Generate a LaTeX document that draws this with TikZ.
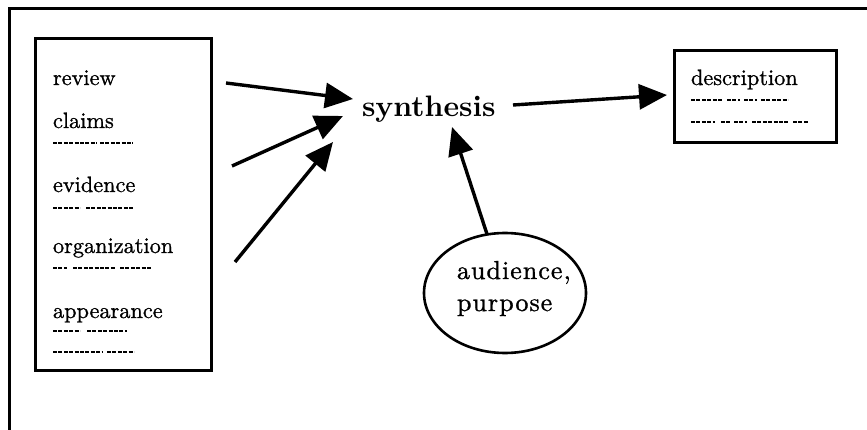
\documentclass[tikz,border=0pt]{standalone}
\usepackage{fontspec}
\setmainfont{lmroman10-regular.otf}[BoldFont=lmroman10-bold.otf]
\usetikzlibrary{arrows.meta,shapes.geometric}
\begin{document}
\begin{tikzpicture}[x=1pt,y=-1pt,
  every node/.style={inner sep=0pt,outer sep=0pt},
  lbl/.style={anchor=base west,font=\fontsize{22.3}{27}\selectfont\addfontfeatures{FakeBold=1}},
  audt/.style={anchor=base west,font=\fontsize{26}{31}\selectfont\addfontfeatures{LetterSpace=4,FakeBold=1}},
  frame/.style={line width=3pt},
  ph/.style={line width=2.4pt,dash pattern=on 4pt off 1.4pt},
  arr/.style={line width=3.4pt,-{Triangle[length=28pt,width=25pt]}}]
\useasboundingbox (0,0) rectangle (867,430);
% outer frame
\draw[frame] (9,430) -- (9,9) -- (867,9);
% left box
\node[draw,frame,minimum width=176,minimum height=331] (lbox) at (123,204.5) {};
\node[lbl] (review) at (53,85) {review};
\node[lbl] (claims) at (53,128) {claims};
\node[lbl] (evid) at (53,192) {evidence};
\node[lbl] (org) at (53,253) {organization};
\node[lbl] (app) at (53,318) {appearance};
% placeholder dashes
\draw[ph] (53,143) -- (97,143)  (100,143) -- (133,143);
\draw[ph] (53,208) -- (80,208)  (86,208) -- (133,208);
\draw[ph] (53,268) -- (67,268)  (73,268) -- (115,268) (120,268) -- (152,268);
\draw[ph] (53,331) -- (80,331)  (87,331) -- (127,331);
\draw[ph] (53,352) -- (102,352) (107,352) -- (134,352);
% synthesis
\node[anchor=base west,font=\bfseries\fontsize{29.6}{35}\selectfont] (syn) at (362,117) {synthesis};
% description box
\node[draw,frame,minimum width=162,minimum height=92] (dbox) at (755,97) {};
\node[lbl] (desc) at (691,85) {description};
\draw[ph] (691,100) -- (723,100) (727,100) -- (740,100) (744,100) -- (757,100) (761,100) -- (788,100);
\draw[ph] (691,122) -- (715,122) (721,122) -- (730,122) (734,122) -- (747,122) (752,122) -- (788,122) (793,122) -- (808,122);
% ellipse
\node[draw,ellipse,line width=2.6pt,minimum width=162,minimum height=120] (aud) at (505,293) {};
\node[audt] (audA) at (457,279) {audience,};
\node[audt] (audB) at (457,311) {purpose};
% arrows
\coordinate (s1) at (226,83);  \coordinate (t1) at (353,99);
\coordinate (s2) at (232,166); \coordinate (t2) at (343,116);
\coordinate (s3) at (235,262); \coordinate (t3) at (333,142);
\coordinate (t4) at (452,127);
\coordinate (s5) at (513,105); \coordinate (t5) at (667,95);
\draw[arr] (s1) -- (t1);
\draw[arr] (s2) -- (t2);
\draw[arr] (s3) -- (t3);
\draw[arr] (aud.107) -- (t4);
\draw[arr] (s5) -- (t5);
\end{tikzpicture}
\end{document}
